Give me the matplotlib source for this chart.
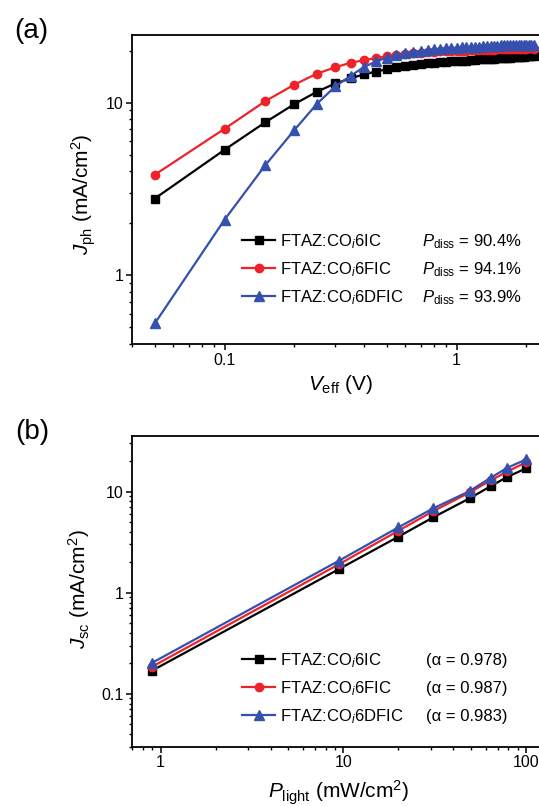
import numpy as np
import matplotlib
matplotlib.use('Agg')
import matplotlib.pyplot as plt
from matplotlib.lines import Line2D
from matplotlib.ticker import FixedLocator, LogLocator, NullFormatter, FormatStrFormatter

plt.rcParams['font.family'] = ['Liberation Sans', 'DejaVu Sans']
plt.rcParams['mathtext.fontset'] = 'custom'
plt.rcParams['mathtext.rm'] = 'Liberation Sans'
plt.rcParams['mathtext.it'] = 'Liberation Sans:italic'
plt.rcParams['mathtext.bf'] = 'Liberation Sans:bold'

# ---- data ----
names = ['FTAZ:CO$_{i}$6IC', 'FTAZ:CO$_{i}$6FIC', 'FTAZ:CO$_{i}$6DFIC']
p_diss = ['90.4%', '94.1%', '93.9%']
alpha = ['0.978', '0.987', '0.983']

# (a) photocurrent vs effective voltage
v_eff = [0.05, 0.10, 0.15, 0.20, 0.25, 0.30, 0.35, 0.40, 0.45, 0.50,
         0.55, 0.60, 0.65, 0.70, 0.75, 0.80, 0.85, 0.90, 0.95, 1.00,
         1.05, 1.10, 1.15, 1.20, 1.25, 1.30, 1.35, 1.40, 1.45, 1.50,
         1.55, 1.60, 1.65, 1.70, 1.75, 1.80, 1.85, 1.90, 1.95, 2.00,
         2.05, 2.10, 2.15]
jph_6ic = [2.78, 5.33, 7.7, 9.8, 11.55, 12.9, 13.8, 14.6, 15.1, 15.6,
           16.0, 16.3, 16.5, 16.7, 16.85, 17.0, 17.1, 17.2, 17.3, 17.35,
           17.45, 17.5, 17.6, 17.65, 17.75, 17.8, 17.85, 17.9, 17.95, 18.0,
           18.05, 18.1, 18.15, 18.2, 18.25, 18.3, 18.35, 18.4, 18.45, 18.5,
           18.55, 18.6, 18.65]
jph_6fic = [3.82, 7.05, 10.2, 12.7, 14.7, 16.0, 17.0, 17.6, 18.1, 18.5,
            18.9, 19.1, 19.3, 19.45, 19.55, 19.65, 19.75, 19.8, 19.85, 19.9,
            19.95, 20.0, 20.05, 20.1, 20.1, 20.15, 20.2, 20.2, 20.25, 20.3,
            20.3, 20.35, 20.35, 20.4, 20.4, 20.45, 20.45, 20.5, 20.5, 20.5,
            20.55, 20.55, 20.5]
jph_6dfic = [0.526, 2.1, 4.35, 6.94, 9.83, 12.4, 14.3, 16.1, 17.3, 18.2,
             18.8, 19.3, 19.6, 19.9, 20.1, 20.3, 20.45, 20.55, 20.65, 20.75,
             20.85, 20.9, 21.0, 21.05, 21.1, 21.15, 21.2, 21.25, 21.3, 21.35,
             21.4, 21.4, 21.45, 21.5, 21.5, 21.55, 21.55, 21.6, 21.6, 21.6,
             21.6, 21.55, 21.4]

# (b) short-circuit current vs light intensity
p_light = [0.9, 9.5, 20, 31, 49, 64, 79, 100]
jsc_6ic = [0.17, 1.72, 3.58, 5.56, 8.57, 11.3, 14.0, 16.96]
jsc_6fic = [0.186, 1.92, 4.1, 6.4, 9.8, 12.9, 15.8, 19.5]
jsc_6dfic = [0.203, 2.08, 4.43, 6.82, 10.1, 13.7, 17.2, 20.8]

colors = ['black', '#ee2229', '#3550ad']
markers = ['s', 'o', '^']
msizes = [5.5, 6.0, 7.0]

W, H = 539, 806
fig = plt.figure(figsize=(W / 100, H / 100), dpi=100)

# axes boxes in pixels; right side is cut by the figure edge
ax1 = fig.add_axes([132.3 / W, 1 - 344 / H, 435 / W, 309 / H])
ax2 = fig.add_axes([132.3 / W, 1 - 746.7 / H, 426 / W, 311 / H])


def style(ax, xmaj, ymaj):
    ax.set_xscale('log')
    ax.set_yscale('log')
    for s in ax.spines.values():
        s.set_linewidth(1.3)
    ax.xaxis.set_major_locator(FixedLocator(xmaj))
    ax.yaxis.set_major_locator(FixedLocator(ymaj))
    ax.xaxis.set_major_formatter(FormatStrFormatter('%g'))
    ax.yaxis.set_major_formatter(FormatStrFormatter('%g'))
    ax.xaxis.set_minor_locator(LogLocator(base=10, subs=np.arange(2, 10), numticks=20))
    ax.yaxis.set_minor_locator(LogLocator(base=10, subs=np.arange(2, 10), numticks=20))
    ax.xaxis.set_minor_formatter(NullFormatter())
    ax.yaxis.set_minor_formatter(NullFormatter())
    ax.tick_params(which='major', direction='out', length=4.2, width=1.1,
                   labelsize=11.5, pad=2, top=False, right=False, colors='black')
    ax.tick_params(which='minor', direction='out', length=2.3, width=1.0,
                   top=False, right=False)


# ---- (a) ----
for y, c, m, ms in zip([jph_6ic, jph_6fic, jph_6dfic], colors, markers, msizes):
    ax1.plot(v_eff, y, color=c, marker=m, markersize=ms, linewidth=1.6)
style(ax1, [0.1, 1], [1, 10])
ax1.set_xlim(0.04, 3.0)
ax1.set_ylim(0.4, 24.6)
ax1.set_xlabel('$V_{\\mathrm{eff}}$ (V)', fontsize=15)
ax1.xaxis.set_label_coords(0.4775, -0.149)
ax1.xaxis.label.set_va('baseline')
ax1.set_ylabel('$J_{\\mathrm{ph}}$ (mA/cm$^2$)', fontsize=15)
ax1.yaxis.set_label_coords(-0.099, 0.485)
ax1.yaxis.label.set_va('baseline')

# ---- (b) ----
for y, c, m, ms in zip([jsc_6ic, jsc_6fic, jsc_6dfic], colors, markers, msizes):
    ax2.plot(p_light, y, color=c, marker=m, markersize=ms, linewidth=1.6)
style(ax2, [1, 10, 100], [0.1, 1, 10])
ax2.set_xlim(0.7, 150)
ax2.set_ylim(0.03, 35.7)
ax2.set_xlabel('$P_{\\mathrm{light}}$ (mW/cm$^2$)', fontsize=15)
ax2.xaxis.set_label_coords(0.484, -0.168)
ax2.xaxis.label.set_va('baseline')
ax2.set_ylabel('$J_{\\mathrm{sc}}$ (mA/cm$^2$)', fontsize=15)
ax2.yaxis.set_label_coords(-0.1087, 0.507)
ax2.yaxis.label.set_va('baseline')


def make_legend(ax, top_px):
    handles = [Line2D([], [], color=c, marker=m, markersize=ms, linewidth=1.6)
               for c, m, ms in zip(colors, markers, msizes)]
    return ax.legend(handles, names, loc='upper left',
                     bbox_to_anchor=(242 / W, 1 - top_px / H),
                     bbox_transform=fig.transFigure, frameon=False,
                     fontsize=12, handlelength=1.98, handletextpad=0.3,
                     labelspacing=0.56, borderpad=0, borderaxespad=0)


leg1 = make_legend(ax1, 232)
leg2 = make_legend(ax2, 651)

fig.canvas.draw()
renderer = fig.canvas.get_renderer()


# second column of each legend, placed on the same rows as the legend handles
def notes_column(leg, notes, x_px):
    for line, note in zip(leg.get_lines(), notes):
        bb = line.get_window_extent(renderer)
        yc = (bb.y0 + bb.y1) / 2
        fig.text(x_px / W, (yc - 5.8) / H, note, fontsize=12,
                 ha='left', va='baseline')


notes_column(leg1, ['$P_{\\mathrm{diss}}$ = ' + p for p in p_diss], 421.7)
notes_column(leg2, ['(\u03b1 = ' + a + ')' for a in alpha], 426.3)

fig.text(31 / W, 1 - 31 / H, '(a)', fontsize=20, ha='center', va='center')
fig.text(32.6 / W, 1 - 432 / H, '(b)', fontsize=20, ha='center', va='center')

fig.savefig('out.png', dpi=100)
